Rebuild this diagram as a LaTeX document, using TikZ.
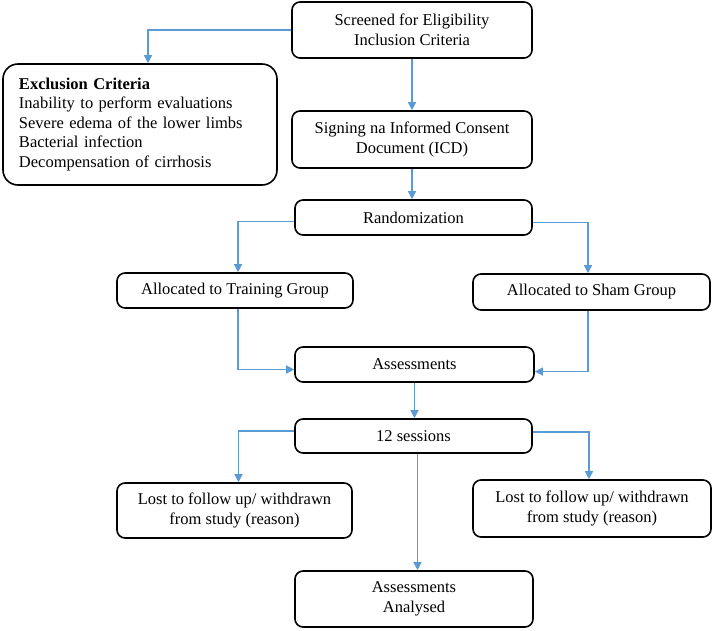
\documentclass[tikz,border=0pt]{standalone}
\usepackage{fontspec}
\setmainfont{Liberation Serif}
\usetikzlibrary{arrows.meta,calc}
\definecolor{arrowblue}{RGB}{91,155,213}
\begin{document}
\begin{tikzpicture}[x=1pt,y=-1pt,
  box/.style={draw=black,line width=1.6pt,rounded corners=8pt,fill=white,align=center,
    font=\fontsize{16.5}{19.5}\selectfont,inner sep=0pt},
  arr/.style={draw=arrowblue,line width=1.3pt,-{Triangle[width=8pt,length=8pt]}}]
\useasboundingbox[fill=white] (0,0) rectangle (715,630);
\node[box,minimum width=240pt,minimum height=56pt] (scr) at (412,30) {Screened for Eligibility\\Inclusion Criteria};
\node[box,rounded corners=15pt,minimum width=274pt,minimum height=121pt,text width=242pt,align=left] (exc) at (140,124.5)
 {\textbf{Exclusion Criteria}\\Inability to perform evaluations\\Severe edema of the lower limbs\\Bacterial infection\\Decompensation of cirrhosis};
\node[box,minimum width=240pt,minimum height=57pt] (sig) at (412,139.5) {Signing na Informed Consent\\Document (ICD)};
\node[box,minimum width=237pt,minimum height=35pt] (rnd) at (413.5,217.5) {Randomization};
\node[box,minimum width=236pt,minimum height=35pt] (trn) at (235,290.5) {Allocated to Training Group};
\node[box,minimum width=237pt,minimum height=36pt] (shm) at (591.5,292) {Allocated to Sham Group};
\node[box,minimum width=239pt,minimum height=35pt] (asm) at (414.5,364.5) {Assessments};
\node[box,minimum width=237pt,minimum height=34pt] (ses) at (413.5,436) {12 sessions};
\node[box,minimum width=235pt,minimum height=55pt] (lsl) at (234.5,510.5) {Lost to follow up/ withdrawn\\from study (reason)};
\node[box,minimum width=238pt,minimum height=57pt] (lsr) at (592,508.5) {Lost to follow up/ withdrawn\\from study (reason)};
\node[box,minimum width=238pt,minimum height=56pt] (ana) at (414,599) {Assessments\\Analysed};
\draw[arr] (scr.west) -| ([xshift=8pt]exc.north);
\draw[arr] (scr.south) -- (sig.north);
\draw[arr] (sig.south) -- (sig.south |- rnd.north);
\draw[arr] ([yshift=-4pt]rnd.west) -| ([xshift=3pt]trn.north);
\draw[arr] ([yshift=-5pt]rnd.east) -| ([xshift=-3.5pt]shm.north);
\draw[arr] ([xshift=3pt]trn.south) |- ([yshift=-5pt]asm.west);
\draw[arr] ([xshift=-3.5pt]shm.south) |- ([yshift=-7pt]asm.east);
\draw[arr] (asm.south) -- (asm.south |- ses.north);
\draw[arr] ([yshift=5pt]ses.west) -| ([xshift=4pt]lsl.north);
\draw[arr] ([yshift=4pt]ses.east) -| ([xshift=-3pt]lsr.north);
\draw[arr] ([xshift=4pt]ses.south) -- ([xshift=4pt]ses.south |- ana.north);
\end{tikzpicture}
\end{document}
